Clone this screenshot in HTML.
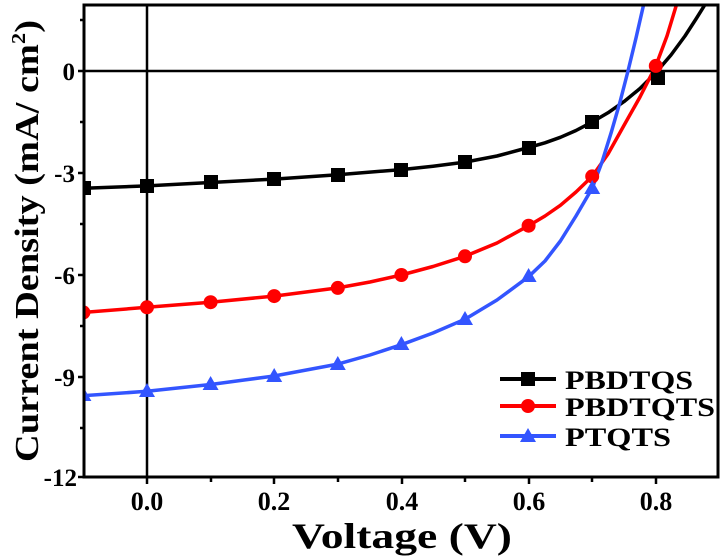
<!DOCTYPE html>
<html><head><style>
html,body{margin:0;padding:0;background:#fff;}
svg{display:block;font-family:"Liberation Serif",serif;font-weight:bold;}
</style></head><body>
<svg width="725" height="556" viewBox="0 0 725 556" xmlns="http://www.w3.org/2000/svg">
<defs><clipPath id="c"><rect x="84" y="5" width="634" height="472"/></clipPath></defs>
<line x1="84" y1="71" x2="718" y2="71" stroke="#000" stroke-width="2.5"/>
<line x1="147" y1="5" x2="147" y2="477" stroke="#000" stroke-width="2.5"/>
<g clip-path="url(#c)" fill="none" stroke-width="3.5" stroke-linejoin="round">
<polyline stroke="#000" points="83.4,188.3 147,185.9 210.6,182.5 274.2,179.1 337.8,174.7 401.4,169.6 433,166.2 465,162.1 497,156 528.6,147.5 545,142.8 560.4,137.3 576,130.5 592.2,122 608,112.8 624,101.6 640,88.5 655.8,72.7 671,55 685,36 696,19 706,3"/>
<polyline stroke="#ff0000" points="83.4,312.4 147,307.3 210.6,302.2 274.2,296.1 337.8,287.9 370,282 401.4,275 433,266.5 465,256.3 497,243 528.6,225.7 545,216 560.4,205.3 576,192 592.2,176.4 608,154 624,125.4 640,97 655.8,65.9 667,36 677,3"/>
<polyline stroke="#3355ff" points="83.4,395.7 147,391.3 210.6,384.5 274.2,376 337.8,364.1 370,355 401.4,344.7 433,333 465,319.2 497,300 528.6,276.7 545,261 560.4,241 576,216 592.2,188.3 602,162 611.3,132.2 620,102 628,71 636,38 644,3"/>
</g>
<g clip-path="url(#c)">
<g fill="#000">
<rect x="77" y="181" width="14" height="14"/><rect x="140" y="179" width="14" height="14"/><rect x="204" y="175" width="14" height="14"/><rect x="267" y="172" width="14" height="14"/><rect x="331" y="168" width="14" height="14"/><rect x="394" y="163" width="14" height="14"/><rect x="458" y="155" width="14" height="14"/><rect x="522" y="141" width="14" height="14"/><rect x="585" y="115" width="14" height="14"/><rect x="651" y="71" width="14" height="14"/>
</g>
<g fill="#ff0000">
<circle cx="83.4" cy="312.4" r="7"/><circle cx="147" cy="307.3" r="7"/><circle cx="210.6" cy="302.2" r="7"/><circle cx="274.2" cy="296.1" r="7"/><circle cx="337.8" cy="287.9" r="7"/><circle cx="401.4" cy="275" r="7"/><circle cx="465" cy="256.3" r="7"/><circle cx="528.6" cy="225.7" r="7"/><circle cx="592.2" cy="176.4" r="7"/><circle cx="655.8" cy="65.9" r="7"/>
</g>
<g fill="#3355ff">
<polygon points="83.4,387 91.4,401 75.4,401"/><polygon points="147,383 155,397 139,397"/><polygon points="210.6,376 218.6,390 202.6,390"/><polygon points="274.2,368 282.2,382 266.2,382"/><polygon points="337.8,356 345.8,370 329.8,370"/><polygon points="401.4,336 409.4,350 393.4,350"/><polygon points="465,311 473,325 457,325"/><polygon points="528.6,268 536.6,282 520.6,282"/><polygon points="592.2,180 600.2,194 584.2,194"/>
</g>
</g>
<rect x="84" y="5" width="634" height="472" fill="none" stroke="#000" stroke-width="3"/>
<g stroke="#000" stroke-width="2.5">
<line x1="78" y1="71" x2="84" y2="71"/><line x1="78" y1="173" x2="84" y2="173"/><line x1="78" y1="275" x2="84" y2="275"/><line x1="78" y1="377" x2="84" y2="377"/><line x1="78" y1="477" x2="84" y2="477"/>
<line x1="80" y1="20" x2="84" y2="20"/><line x1="80" y1="122" x2="84" y2="122"/><line x1="80" y1="224" x2="84" y2="224"/><line x1="80" y1="326" x2="84" y2="326"/><line x1="80" y1="428" x2="84" y2="428"/>
<line x1="147" y1="477" x2="147" y2="484"/><line x1="274" y1="477" x2="274" y2="484"/><line x1="402" y1="477" x2="402" y2="484"/><line x1="529" y1="477" x2="529" y2="484"/><line x1="656" y1="477" x2="656" y2="484"/>
<line x1="211" y1="477" x2="211" y2="482"/><line x1="338" y1="477" x2="338" y2="482"/><line x1="465" y1="477" x2="465" y2="482"/><line x1="592" y1="477" x2="592" y2="482"/>
</g>
<g font-size="25" text-anchor="end">
<text x="75" y="80">0</text><text x="75" y="182">-3</text><text x="75" y="284">-6</text><text x="75" y="386">-9</text><text x="77" y="486">-12</text>
</g>
<g font-size="26" text-anchor="middle">
<text x="147" y="510">0.0</text><text x="274" y="510">0.2</text><text x="402" y="510">0.4</text><text x="529" y="510">0.6</text><text x="656" y="510">0.8</text>
</g>
<text x="292" y="548" font-size="36" textLength="220" lengthAdjust="spacingAndGlyphs">Voltage (V)</text>
<text transform="translate(38,462) rotate(-90)" font-size="34" textLength="442" lengthAdjust="spacingAndGlyphs">Current Density (mA/ cm<tspan font-size="20" dy="-13">2</tspan><tspan dy="13">)</tspan></text>
<g stroke-width="4">
<line x1="500" y1="379" x2="556" y2="379" stroke="#000"/>
<line x1="500" y1="406" x2="556" y2="406" stroke="#ff0000"/>
<line x1="500" y1="436" x2="556" y2="436" stroke="#3355ff"/>
</g>
<rect x="521" y="372" width="14" height="14" fill="#000"/>
<circle cx="528" cy="406" r="7" fill="#ff0000"/>
<polygon points="528,428 536,442 520,442" fill="#3355ff"/>
<g font-size="26">
<text x="565" y="389" textLength="128" lengthAdjust="spacingAndGlyphs">PBDTQS</text>
<text x="565" y="416" textLength="150" lengthAdjust="spacingAndGlyphs">PBDTQTS</text>
<text x="565" y="446" textLength="106" lengthAdjust="spacingAndGlyphs">PTQTS</text>
</g>
</svg>
</body></html>
